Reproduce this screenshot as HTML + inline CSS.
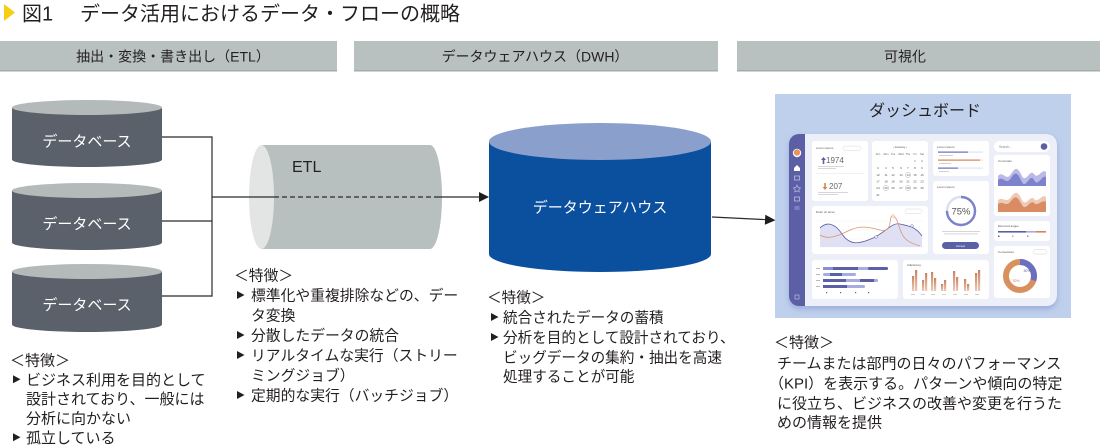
<!DOCTYPE html>
<html><head><meta charset="utf-8">
<style>
html,body{margin:0;padding:0;background:#fff;}
body{width:1100px;height:446px;overflow:hidden;}
svg{display:block;}
.t{font-family:"Liberation Sans","Noto Sans CJK JP",sans-serif;fill:#231f20;}
.s{font-family:"Liberation Sans",sans-serif;}
</style></head>
<body>
<svg width="1100" height="446" viewBox="0 0 1100 446" xmlns="http://www.w3.org/2000/svg">
<defs>
  <filter id="sh" x="-10%" y="-10%" width="120%" height="130%">
    <feDropShadow dx="0" dy="3" stdDeviation="3" flood-color="#7a88c8" flood-opacity="0.5"/>
  </filter>
  <linearGradient id="og" x1="0" y1="0" x2="0" y2="1">
    <stop offset="0" stop-color="#c9825e"/><stop offset="1" stop-color="#efc9b4"/>
  </linearGradient>
</defs>

<!-- Title -->
<polygon points="4,4 15,12.5 4,21" fill="#f6cf12"/>
<text class="t" x="22" y="20.3" font-size="20" fill="#2a2a2a">図1</text>
<text class="t" x="80" y="20.3" font-size="20" fill="#2a2a2a">データ活用におけるデータ・フローの概略</text>

<!-- Header bars -->
<rect x="0" y="41" width="337" height="30" fill="#b9c0c0"/>
<rect x="0" y="70" width="337" height="1.5" fill="#a3abab"/>
<rect x="354" y="41" width="364" height="30" fill="#b9c0c0"/>
<rect x="354" y="70" width="364" height="1.5" fill="#a3abab"/>
<rect x="737" y="41" width="363" height="30" fill="#b9c0c0"/>
<rect x="737" y="70" width="363" height="1.5" fill="#a3abab"/>
<text class="t" x="173" y="61.3" font-size="14" text-anchor="middle">抽出・変換・書き出し（ETL）</text>
<text class="t" x="535" y="61.3" font-size="14" text-anchor="middle">データウェアハウス（DWH）</text>
<text class="t" x="905" y="61.3" font-size="14" text-anchor="middle">可視化</text>

<!-- Database cylinders -->
<g>
  <path d="M12,107.5 V159.5 A75,7.5 0 0 0 162,159.5 V107.5 Z" fill="#5a616b"/>
  <ellipse cx="87" cy="107.5" rx="75" ry="7.5" fill="#b4baba"/>
  <text class="t" x="87" y="146.5" font-size="15" text-anchor="middle" style="fill:#fff">データベース</text>

  <path d="M12,190.5 V242.5 A75,7.5 0 0 0 162,242.5 V190.5 Z" fill="#5a616b"/>
  <ellipse cx="87" cy="190.5" rx="75" ry="7.5" fill="#b4baba"/>
  <text class="t" x="87" y="229" font-size="15" text-anchor="middle" style="fill:#fff">データベース</text>

  <path d="M12,271.5 V324.5 A75,7.5 0 0 0 162,324.5 V271.5 Z" fill="#5a616b"/>
  <ellipse cx="87" cy="271.5" rx="75" ry="7.5" fill="#b4baba"/>
  <text class="t" x="87" y="310" font-size="15" text-anchor="middle" style="fill:#fff">データベース</text>
</g>

<!-- ETL cylinder -->
<path d="M262,145 H430 A12,52 0 0 1 430,249 H262 Z" fill="#b8bfbf"/>
<ellipse cx="261.5" cy="197" rx="12.5" ry="52" fill="#e3e5e5"/>
<text class="s" x="292" y="172" font-size="16" fill="#222">ETL</text>

<!-- DWH cylinder -->
<path d="M489,141.5 V254 A111,18 0 0 0 711,254 V141.5 Z" fill="#0b4f9f"/>
<ellipse cx="600" cy="141.5" rx="111" ry="18.5" fill="#8a9fcc"/>
<text class="t" x="600" y="212.5" font-size="15" text-anchor="middle" style="fill:#fff">データウェアハウス</text>

<!-- Connectors -->
<g stroke="#2b2b2b" stroke-width="1.2" fill="none">
  <polyline points="162,137 212,137"/>
  <polyline points="162,221 212,221"/>
  <polyline points="162,296 212,296"/>
  <polyline points="212,136.4 212,296.6"/>
  <polyline points="212,197 274,197"/>
  <polyline points="274,197 439,197" stroke-dasharray="5,3"/>
  <polyline points="439,197 480,197"/>
  <polyline points="712,217 767,219.7"/>
</g>
<polygon points="479,192 489,197 479,202" fill="#1e1e1e"/>
<polygon points="765.3,214.7 775.5,220.2 764.8,224.7" fill="#1e1e1e"/>

<!-- Dashboard panel -->
<rect x="775" y="94" width="296" height="224" fill="#bed0ec"/>
<text class="t" x="925" y="116" font-size="16" text-anchor="middle">ダッシュボード</text>

<g filter="url(#sh)">
  <rect x="789" y="134" width="268" height="172" rx="10" fill="#5b5fa6"/>
</g>
<path d="M805,134 H1047 A10,10 0 0 1 1057,144 V296 A10,10 0 0 1 1047,306 H805 Z" fill="#eceef8"/>

<!-- sidebar icons -->
<circle cx="797" cy="153" r="4.2" fill="#fff"/>
<circle cx="797" cy="152.5" r="3.2" fill="#e6955f"/>
<polygon points="794,168 797,165 800,168 800,171 794,171" fill="#fff"/>
<rect x="794.5" y="176" width="5" height="4" fill="none" stroke="#c9cbea" stroke-width="0.7"/>
<polygon points="797,185 798.2,187.6 800.5,188 798.8,189.6 799.2,192 797,190.8 794.8,192 795.2,189.6 793.5,188 795.8,187.6" fill="none" stroke="#c9cbea" stroke-width="0.6"/>
<rect x="794.5" y="197" width="5" height="4" fill="none" stroke="#c9cbea" stroke-width="0.7"/>
<line x1="794.5" y1="207" x2="799.5" y2="207" stroke="#c9cbea" stroke-width="0.6"/>
<line x1="794.5" y1="209" x2="799.5" y2="209" stroke="#c9cbea" stroke-width="0.6"/>
<rect x="795" y="295" width="4" height="4" fill="none" stroke="#c9cbea" stroke-width="0.6"/>

<!-- Cards -->
<g fill="#fff">
  <rect x="812" y="141" width="56" height="60" rx="3"/>
  <rect x="872" y="141" width="56" height="60" rx="3"/>
  <rect x="933" y="141" width="56" height="35" rx="3"/>
  <rect x="994" y="141" width="56" height="11" rx="5.5"/>
  <rect x="994" y="155" width="56" height="61" rx="3"/>
  <rect x="812" y="206" width="116" height="48" rx="3"/>
  <rect x="933" y="181" width="56" height="73" rx="3"/>
  <rect x="994" y="221" width="56" height="20" rx="3"/>
  <rect x="994" y="246" width="56" height="52" rx="3"/>
  <rect x="812" y="260" width="86" height="39" rx="3"/>
  <rect x="903" y="260" width="86" height="39" rx="3"/>
</g>

<!-- Card A -->
<text class="s" x="816" y="149" font-size="3" fill="#555">Lorem ipsum</text>
<rect x="843" y="146" width="18" height="4.5" rx="2.2" fill="none" stroke="#ccc" stroke-width="0.4"/>
<text class="s" x="826" y="163" font-size="8" fill="#666">1974</text>
<polygon points="823.5,157 826,160 824.3,160 824.3,164 822.7,164 822.7,160 821,160" fill="#5b5fa6"/>
<rect x="818" y="166" width="26" height="0.8" fill="#ccc"/><rect x="818" y="168" width="18" height="0.8" fill="#ccc"/>
<rect x="816" y="173" width="48" height="0.5" fill="#e3e3e3"/>
<text class="s" x="829" y="189" font-size="8" fill="#666">207</text>
<polygon points="825,190 822.5,187 824.2,187 824.2,183 825.8,183 825.8,187 827.5,187" fill="#d8844f"/>
<rect x="818" y="192" width="30" height="0.8" fill="#ccc"/><rect x="818" y="194" width="20" height="0.8" fill="#ccc"/>

<!-- Card B calendar -->
<text class="s" x="900" y="148" font-size="3" fill="#555" text-anchor="middle">‹   January   ›</text>
<g class="s" font-size="2.6" fill="#666" text-anchor="middle">
  <text y="155"><tspan x="878">Sun</tspan><tspan x="886">Mon</tspan><tspan x="893">Tue</tspan><tspan x="901">Wed</tspan><tspan x="908">Thu</tspan><tspan x="915">Fri</tspan><tspan x="922">Sat</tspan></text>
</g>
<g class="s" font-size="3" fill="#555" text-anchor="middle">
  <text y="162"><tspan x="915">1</tspan><tspan x="922">2</tspan></text>
  <text y="169"><tspan x="878">3</tspan><tspan x="886">4</tspan><tspan x="893">5</tspan><tspan x="901">6</tspan><tspan x="908">7</tspan><tspan x="915">8</tspan><tspan x="922">9</tspan></text>
  <text y="176"><tspan x="878">10</tspan><tspan x="886">11</tspan><tspan x="893">12</tspan><tspan x="901">13</tspan><tspan x="908">14</tspan><tspan x="915">15</tspan><tspan x="922">16</tspan></text>
  <text y="182.5"><tspan x="878">17</tspan><tspan x="886">18</tspan><tspan x="893">19</tspan><tspan x="901">20</tspan><tspan x="908">21</tspan><tspan x="915">22</tspan><tspan x="922">23</tspan></text>
  <text y="189"><tspan x="878">24</tspan><tspan x="886">25</tspan><tspan x="893">26</tspan><tspan x="901">27</tspan><tspan x="908">28</tspan><tspan x="915">29</tspan><tspan x="922">30</tspan></text>
  <text y="196"><tspan x="878">31</tspan></text>
</g>
<g fill="none" stroke="#999" stroke-width="0.4">
  <circle cx="908" cy="175" r="2.6"/><circle cx="886" cy="188" r="2.6"/><circle cx="908" cy="188" r="2.6"/>
</g>

<!-- Card C -->
<text class="s" x="937" y="148" font-size="3" fill="#555">Lorem ipsum</text>
<rect x="938" y="151.5" width="45" height="1.2" fill="#e2e3f0"/><rect x="938" y="151.5" width="30" height="1.2" fill="#6a6fc0"/>
<rect x="938" y="159.5" width="45" height="1.2" fill="#efe0d6"/><rect x="938" y="159.5" width="42" height="1.2" fill="#d8845a"/>
<rect x="938" y="167.5" width="45" height="1.2" fill="#e2e3f0"/><rect x="938" y="167.5" width="20" height="1.2" fill="#6a6fc0"/>
<rect x="939" y="155" width="14" height="0.7" fill="#bbb"/><rect x="939" y="163" width="12" height="0.7" fill="#bbb"/><rect x="939" y="171" width="10" height="0.7" fill="#bbb"/>

<!-- Card D search -->
<text class="s" x="999" y="148" font-size="3.2" fill="#888">Search...</text>
<circle cx="1044" cy="146.5" r="3.3" fill="#5b5fa6"/>

<!-- Card E -->
<text class="s" x="998" y="162" font-size="3" fill="#555">Commodo</text>
<path d="M998,176 C1003,170 1006,182 1011,174 S1018,168 1022,176 S1030,168 1034,174 S1042,168 1046,172 V186 H998 Z" fill="#b9bbe6"/>
<path d="M998,180 C1003,175 1006,186 1011,178 S1018,174 1022,182 S1030,172 1034,180 S1042,174 1046,177 V186 H998 Z" fill="#7d82cc"/>
<path d="M998,200 C1003,196 1006,204 1011,197 S1018,192 1022,200 S1030,194 1034,199 S1042,193 1046,197 V212 H998 Z" fill="#f0c9b3"/>
<path d="M998,204 C1003,200 1006,208 1011,201 S1018,198 1022,205 S1030,199 1034,203 S1042,199 1046,202 V212 H998 Z" fill="#d98c64"/>

<!-- Card F line chart -->
<text class="s" x="816" y="213" font-size="3" fill="#555">Dolor sit amet</text>
<rect x="905" y="209" width="17" height="4.5" rx="2.2" fill="none" stroke="#ccc" stroke-width="0.4"/>
<g stroke="#eee" stroke-width="0.4"><line x1="818" y1="221" x2="924" y2="221"/><line x1="818" y1="230" x2="924" y2="230"/><line x1="818" y1="239" x2="924" y2="239"/><line x1="818" y1="247" x2="924" y2="247"/></g>
<path d="M820,228 C826,222 834,222 842,234 S860,244 873,238 S892,222 900,224 S915,226 922,236 V247 H820 Z" fill="#dfe0f4"/>
<path d="M820,228 C826,222 834,222 842,234 S860,244 873,238 S892,222 900,224 S915,226 922,236" fill="none" stroke="#5b5fa6" stroke-width="0.8"/>
<path d="M820,235 C828,240 838,236 848,231 S866,226 880,230 S888,214 893,216 S898,226 902,234 S914,244 920,246" fill="none" stroke="#d9956d" stroke-width="0.8"/>
<circle cx="893" cy="216" r="1.3" fill="#fff" stroke="#d9956d" stroke-width="0.5"/>
<circle cx="912" cy="226" r="1.3" fill="#fff" stroke="#5b5fa6" stroke-width="0.5"/>
<circle cx="876" cy="237" r="1.3" fill="#fff" stroke="#5b5fa6" stroke-width="0.5"/>

<!-- Card G -->
<text class="s" x="937" y="188" font-size="3" fill="#555">Lorem ipsum</text>
<circle cx="961" cy="211" r="14" fill="none" stroke="#dcdef2" stroke-width="2.4"/>
<circle cx="961" cy="211" r="14" fill="none" stroke="#7d82cc" stroke-width="2.4" stroke-dasharray="66 22" transform="rotate(-90 961 211)"/>
<text class="s" x="961" y="214.5" font-size="9.5" fill="#555" text-anchor="middle">75%</text>
<rect x="942" y="231" width="38" height="0.8" fill="#ccc"/><rect x="944" y="233.5" width="34" height="0.8" fill="#ccc"/>
<rect x="942" y="242" width="37" height="7" rx="3.5" fill="#5b5fa6"/>
<text class="s" x="960.5" y="246.8" font-size="3" fill="#fff" text-anchor="middle">Accept</text>

<!-- Card H -->
<text class="s" x="998" y="227" font-size="3" fill="#555">Eiusmod augue</text>
<rect x="998" y="231" width="28" height="1.6" fill="#5b5fa6"/><rect x="1026" y="231" width="10" height="1.6" fill="#a8abe0"/><rect x="1036" y="231" width="10" height="1.6" fill="#d8845a"/>
<rect x="998" y="235.5" width="1.5" height="1.5" fill="#5b5fa6"/><rect x="1012" y="235.5" width="1.5" height="1.5" fill="#a8abe0"/><rect x="1027" y="235.5" width="1.5" height="1.5" fill="#d8845a"/>

<!-- Card I donut -->
<text class="s" x="998" y="253" font-size="3" fill="#555">Consectetur</text>
<rect x="1033" y="249.5" width="14" height="4.5" rx="2.2" fill="none" stroke="#ccc" stroke-width="0.4"/>
<circle cx="1020" cy="276" r="14" fill="none" stroke="#d9905f" stroke-width="6"/>
<circle cx="1020" cy="276" r="14" fill="none" stroke="#6a6fc0" stroke-width="6" stroke-dasharray="26.4 61.6" transform="rotate(-90 1020 276)"/>
<text class="s" x="1027" y="272" font-size="3.5" fill="#5b5fa6" text-anchor="middle">30%</text>
<text class="s" x="1016" y="282" font-size="3.5" fill="#c0704a" text-anchor="middle">70%</text>

<!-- Card J horizontal bars -->
<g>
  <rect x="823" y="267" width="65" height="3" rx="1.5" fill="#a8abe0"/><rect x="823" y="267" width="10" height="3" fill="#8a8ed6"/><rect x="833" y="267" width="25" height="3" fill="#5b5fa6"/><rect x="868" y="267" width="20" height="3" rx="1.5" fill="#5b5fa6"/>
  <rect x="823" y="273" width="33" height="3" rx="1.5" fill="#a8abe0"/><rect x="830" y="273" width="12" height="3" fill="#5b5fa6"/>
  <rect x="823" y="279" width="55" height="3" rx="1.5" fill="#a8abe0"/><rect x="823" y="279" width="23" height="3" fill="#5b5fa6"/><rect x="860" y="279" width="14" height="3" fill="#5b5fa6"/>
  <rect x="823" y="285" width="42" height="3" rx="1.5" fill="#a8abe0"/><rect x="823" y="285" width="24" height="3" fill="#5b5fa6"/>
  <g fill="#aaa"><rect x="816" y="268" width="4" height="0.8"/><rect x="816" y="274" width="4" height="0.8"/><rect x="816" y="280" width="4" height="0.8"/><rect x="816" y="286" width="4" height="0.8"/></g>
  <g fill="#5b5fa6"><rect x="826" y="292" width="1.2" height="1.2"/><rect x="840" y="292" width="1.2" height="1.2"/><rect x="855" y="292" width="1.2" height="1.2"/><rect x="868" y="292" width="1.2" height="1.2"/></g>
</g>

<!-- Card K vertical bars -->
<text class="s" x="907" y="266" font-size="3" fill="#555">Adipiscing</text>
<g fill="url(#og)">
  <rect x="912" y="276" width="2.2" height="15"/><rect x="915" y="270" width="2.2" height="21"/>
  <rect x="922" y="280" width="2.2" height="11"/><rect x="925" y="273" width="2.2" height="18"/>
  <rect x="931" y="272" width="2.2" height="19"/><rect x="934" y="278" width="2.2" height="13"/>
  <rect x="941" y="284" width="2.2" height="7"/><rect x="944" y="280" width="2.2" height="11"/>
  <rect x="953" y="271" width="2.2" height="20"/><rect x="956" y="277" width="2.2" height="14"/>
  <rect x="964" y="279" width="2.2" height="12"/><rect x="967" y="284" width="2.2" height="7"/>
  <rect x="975" y="273" width="2.2" height="18"/><rect x="978" y="270" width="2.2" height="21"/>
</g>
<g fill="#bbb"><rect x="911" y="294" width="4" height="0.7"/><rect x="921" y="294" width="4" height="0.7"/><rect x="931" y="294" width="4" height="0.7"/><rect x="942" y="294" width="4" height="0.7"/><rect x="953" y="294" width="4" height="0.7"/><rect x="964" y="294" width="4" height="0.7"/><rect x="975" y="294" width="4" height="0.7"/></g>

<!-- Feature text blocks -->
<g class="t" font-size="15">
  <text x="10" y="365.6">＜特徴＞</text>
  <text x="26" y="384.9">ビジネス利用を目的として</text>
  <text x="26" y="404.2">設計されており、一般には</text>
  <text x="26" y="423.6">分析に向かない</text>
  <text x="26" y="442.9">孤立している</text>
</g>
<g fill="#231f20">
  <polygon points="13,375.3 20.5,379.3 13,383.3"/>
  <polygon points="13,433.3 20.5,437.3 13,441.3"/>
</g>

<g class="t" font-size="14.8">
  <text x="234" y="280.5">＜特徴＞</text>
  <text x="251" y="300.5">標準化や重複排除などの、デー</text>
  <text x="251" y="320.5">タ変換</text>
  <text x="251" y="340.5">分散したデータの統合</text>
  <text x="251" y="360.5">リアルタイムな実行（ストリー</text>
  <text x="251" y="380.5">ミングジョブ）</text>
  <text x="251" y="400.5">定期的な実行（バッチジョブ）</text>
</g>
<g fill="#231f20">
  <polygon points="237,291 244.5,295 237,299"/>
  <polygon points="237,331 244.5,335 237,339"/>
  <polygon points="237,351 244.5,355 237,359"/>
  <polygon points="237,391 244.5,395 237,399"/>
</g>

<g class="t" font-size="14.6">
  <text x="487" y="302.5">＜特徴＞</text>
  <text x="503" y="322.5">統合されたデータの蓄積</text>
  <text x="503" y="342.5">分析を目的として設計されており、</text>
  <text x="503" y="362.5">ビッグデータの集約・抽出を高速</text>
  <text x="503" y="381.5">処理することが可能</text>
</g>
<g fill="#231f20">
  <polygon points="491,313 498.5,317 491,321"/>
  <polygon points="491,333 498.5,337 491,341"/>
</g>

<g class="t" font-size="15">
  <text x="774" y="347.7">＜特徴＞</text>
  <text x="777" y="368.7">チームまたは部門の日々のパフォーマンス</text>
  <text x="769" y="388.7">（KPI）を表示する。パターンや傾向の特定</text>
  <text x="777" y="408.7">に役立ち、ビジネスの改善や変更を行うた</text>
  <text x="777" y="427.7">めの情報を提供</text>
</g>
</svg>
</body></html>
